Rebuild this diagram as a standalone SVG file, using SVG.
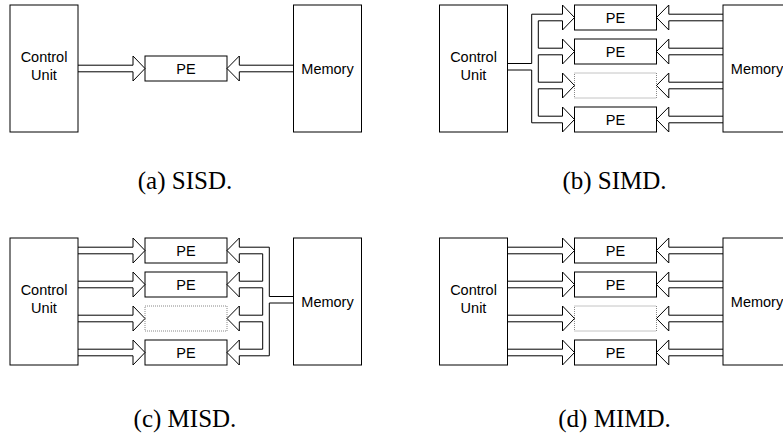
<svg xmlns="http://www.w3.org/2000/svg" width="783" height="436" viewBox="0 0 783 436">
<style>
.box{fill:#fff;stroke:#000;stroke-width:1}
.dot{fill:#fff;stroke:#888;stroke-width:1;stroke-dasharray:1 1}
.arr{fill:none;stroke:#000;stroke-width:1;stroke-linejoin:miter}
.lbl{font-family:"Liberation Sans",Arial,sans-serif;font-size:14.5px;fill:#000;text-anchor:middle}
.cap{font-family:"Liberation Serif","Times New Roman",serif;font-size:25px;fill:#000;text-anchor:middle}
</style>
<rect width="783" height="436" fill="#fff"/>

<!-- (a) SISD -->
<g id="panel-a">
  <g id="a-cu"><rect class="box" x="10" y="5" width="68" height="127"/><text class="lbl" x="44" y="61.5">Control</text><text class="lbl" x="44" y="80">Unit</text></g>
  <g id="a-pe"><rect class="box" x="145" y="56" width="82" height="25"/><text class="lbl" x="186" y="73.8">PE</text></g>
  <g id="a-mem"><rect class="box" x="293.5" y="5" width="68" height="127"/><text class="lbl" x="327.5" y="73.7">Memory</text></g>
  <g id="a-connectors">
    <path class="arr" d="M78,65.2 H133 V56 L145,68.5 L133,81 V71.8 H78"/>
    <path class="arr" d="M293.5,65.2 H239.3 V56 L227,68.5 L239.3,81 V71.8 H293.5"/>
  </g>
</g>

<!-- (b) SIMD -->
<g id="panel-b" transform="translate(429.5,0)">
  <g id="b-cu"><rect class="box" x="10" y="5" width="68" height="127"/><text class="lbl" x="44" y="61.5">Control</text><text class="lbl" x="44" y="80">Unit</text></g>
  <g id="b-pe1"><rect class="box" x="145" y="5" width="82" height="25"/><text class="lbl" x="186" y="22.8">PE</text></g>
  <g id="b-pe2"><rect class="box" x="145" y="39" width="82" height="25"/><text class="lbl" x="186" y="56.8">PE</text></g>
  <g id="b-pe3"><rect class="dot" x="145" y="73" width="82" height="25"/></g>
  <g id="b-pe4"><rect class="box" x="145" y="107" width="82" height="25"/><text class="lbl" x="186" y="124.8">PE</text></g>
  <g id="b-mem"><rect class="box" x="293.5" y="5" width="68" height="127"/><text class="lbl" x="327.5" y="73.7">Memory</text></g>
  <g id="b-connectors">
    <path class="arr" d="M78,63.5 H102.2 V14.2 H133 V5 L145,17.5 L133,30 V20.8 H108.8 V48.2 H133 V39 L145,51.5 L133,64 V54.8 H108.8 V82.2 H133 V73 L145,85.5 L133,98 V88.8 H108.8 V116.2 H133 V107 L145,119.5 L133,132 V122.8 H102.2 V70 H78"/>
    <path class="arr" d="M293.5,14.2 H239.3 V5 L227,17.5 L239.3,30 V20.8 H293.5"/>
    <path class="arr" d="M293.5,48.2 H239.3 V39 L227,51.5 L239.3,64 V54.8 H293.5"/>
    <path class="arr" d="M293.5,82.2 H239.3 V73 L227,85.5 L239.3,98 V88.8 H293.5"/>
    <path class="arr" d="M293.5,116.2 H239.3 V107 L227,119.5 L239.3,132 V122.8 H293.5"/>
  </g>
</g>

<!-- (c) MISD -->
<g id="panel-c" transform="translate(0,233)">
  <g id="c-cu"><rect class="box" x="10" y="5" width="68" height="127"/><text class="lbl" x="44" y="61.5">Control</text><text class="lbl" x="44" y="80">Unit</text></g>
  <g id="c-pe1"><rect class="box" x="145" y="5" width="82" height="25"/><text class="lbl" x="186" y="22.8">PE</text></g>
  <g id="c-pe2"><rect class="box" x="145" y="39" width="82" height="25"/><text class="lbl" x="186" y="56.8">PE</text></g>
  <g id="c-pe3"><rect class="dot" x="145" y="73" width="82" height="25"/></g>
  <g id="c-pe4"><rect class="box" x="145" y="107" width="82" height="25"/><text class="lbl" x="186" y="124.8">PE</text></g>
  <g id="c-mem"><rect class="box" x="293.5" y="5" width="68" height="127"/><text class="lbl" x="327.5" y="73.7">Memory</text></g>
  <g id="c-connectors">
    <path class="arr" d="M78,14.2 H133 V5 L145,17.5 L133,30 V20.8 H78"/>
    <path class="arr" d="M78,48.2 H133 V39 L145,51.5 L133,64 V54.8 H78"/>
    <path class="arr" d="M78,82.2 H133 V73 L145,85.5 L133,98 V88.8 H78"/>
    <path class="arr" d="M78,116.2 H133 V107 L145,119.5 L133,132 V122.8 H78"/>
    <path class="arr" d="M293.5,63.5 H269.3 V14.2 H239.3 V5 L227,17.5 L239.3,30 V20.8 H262.7 V48.2 H239.3 V39 L227,51.5 L239.3,64 V54.8 H262.7 V82.2 H239.3 V73 L227,85.5 L239.3,98 V88.8 H262.7 V116.2 H239.3 V107 L227,119.5 L239.3,132 V122.8 H269.3 V70 H293.5"/>
  </g>
</g>

<!-- (d) MIMD -->
<g id="panel-d" transform="translate(429.5,233)">
  <g id="d-cu"><rect class="box" x="10" y="5" width="68" height="127"/><text class="lbl" x="44" y="61.5">Control</text><text class="lbl" x="44" y="80">Unit</text></g>
  <g id="d-pe1"><rect class="box" x="145" y="5" width="82" height="25"/><text class="lbl" x="186" y="22.8">PE</text></g>
  <g id="d-pe2"><rect class="box" x="145" y="39" width="82" height="25"/><text class="lbl" x="186" y="56.8">PE</text></g>
  <g id="d-pe3"><rect class="dot" x="145" y="73" width="82" height="25"/></g>
  <g id="d-pe4"><rect class="box" x="145" y="107" width="82" height="25"/><text class="lbl" x="186" y="124.8">PE</text></g>
  <g id="d-mem"><rect class="box" x="293.5" y="5" width="68" height="127"/><text class="lbl" x="327.5" y="73.7">Memory</text></g>
  <g id="d-connectors">
    <path class="arr" d="M78,14.2 H133 V5 L145,17.5 L133,30 V20.8 H78"/>
    <path class="arr" d="M78,48.2 H133 V39 L145,51.5 L133,64 V54.8 H78"/>
    <path class="arr" d="M78,82.2 H133 V73 L145,85.5 L133,98 V88.8 H78"/>
    <path class="arr" d="M78,116.2 H133 V107 L145,119.5 L133,132 V122.8 H78"/>
    <path class="arr" d="M293.5,14.2 H239.3 V5 L227,17.5 L239.3,30 V20.8 H293.5"/>
    <path class="arr" d="M293.5,48.2 H239.3 V39 L227,51.5 L239.3,64 V54.8 H293.5"/>
    <path class="arr" d="M293.5,82.2 H239.3 V73 L227,85.5 L239.3,98 V88.8 H293.5"/>
    <path class="arr" d="M293.5,116.2 H239.3 V107 L227,119.5 L239.3,132 V122.8 H293.5"/>
  </g>
</g>

<g id="captions">
  <text class="cap" x="185" y="189">(a) SISD.</text>
  <text class="cap" x="614.5" y="189">(b) SIMD.</text>
  <text class="cap" x="185" y="427">(c) MISD.</text>
  <text class="cap" x="614.5" y="427">(d) MIMD.</text>
</g>
</svg>
